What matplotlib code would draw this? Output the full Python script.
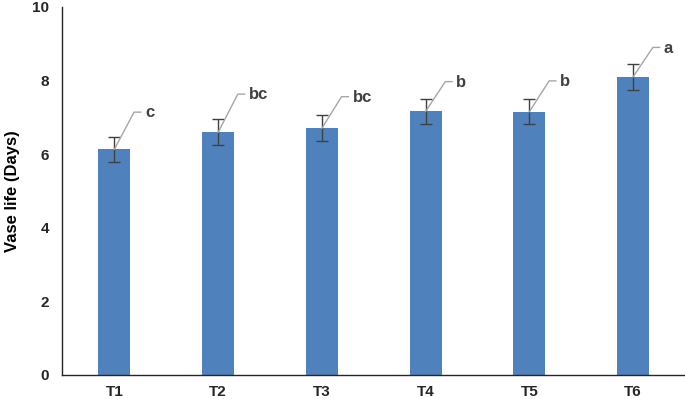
import numpy as np
import matplotlib.pyplot as plt

plt.rcParams['font.family'] = ['Liberation Sans', 'DejaVu Sans']

treatments = ['T1', 'T2', 'T3', 'T4', 'T5', 'T6']
vase_life = [6.13, 6.59, 6.70, 7.16, 7.15, 8.10]
std_err = [0.34, 0.35, 0.35, 0.34, 0.34, 0.35]
letters = ['c', 'bc', 'bc', 'b', 'b', 'a']
letter_y = [7.14, 7.63, 7.56, 7.97, 7.99, 8.90]

fig = plt.figure(figsize=(6.85, 3.99), dpi=100)
ax = fig.add_axes([0.0912, 0.061, 0.9088, 0.9215])

x = np.arange(len(treatments))
ax.bar(x, vase_life, width=0.31, color='#4f81bd', zorder=2)
ax.errorbar(x, vase_life, yerr=std_err, fmt='none', ecolor='#404040',
            elinewidth=1.0, capsize=4, capthick=1.0, zorder=3)

# Leader lines from the bar top to the significance letter.
for xi, v, ly, lab in zip(x, vase_life, letter_y, letters):
    x1 = xi + 0.19
    ax.plot([xi, x1, x1 + 0.065], [v, ly, ly], color='#a6a6a6', lw=1.0,
            zorder=4)
    ax.text(x1 + 0.105, ly - 0.02, lab, ha='left', va='center', fontsize=12,
            fontweight='bold', color='#404040')

ax.set_xlim(-0.5, 5.5)
ax.set_ylim(0, 10)
ax.set_yticks([0, 2, 4, 6, 8, 10])
ax.set_xticks(x)
ax.set_xticklabels(treatments)
ax.tick_params(length=0, labelsize=11, colors='#262626')
ax.tick_params(axis='x', pad=7.5)
ax.tick_params(axis='y', pad=9.5)
for t in ax.get_xticklabels() + ax.get_yticklabels():
    t.set_fontweight('bold')

for s in ['top', 'right']:
    ax.spines[s].set_visible(False)
for s in ['left', 'bottom']:
    ax.spines[s].set_color('#262626')
    ax.spines[s].set_linewidth(1.0)

ax.set_ylabel('Vase life (Days)', fontsize=12, fontweight='bold',
              color='#000000', labelpad=9)

fig.savefig('out.png', dpi=100)
